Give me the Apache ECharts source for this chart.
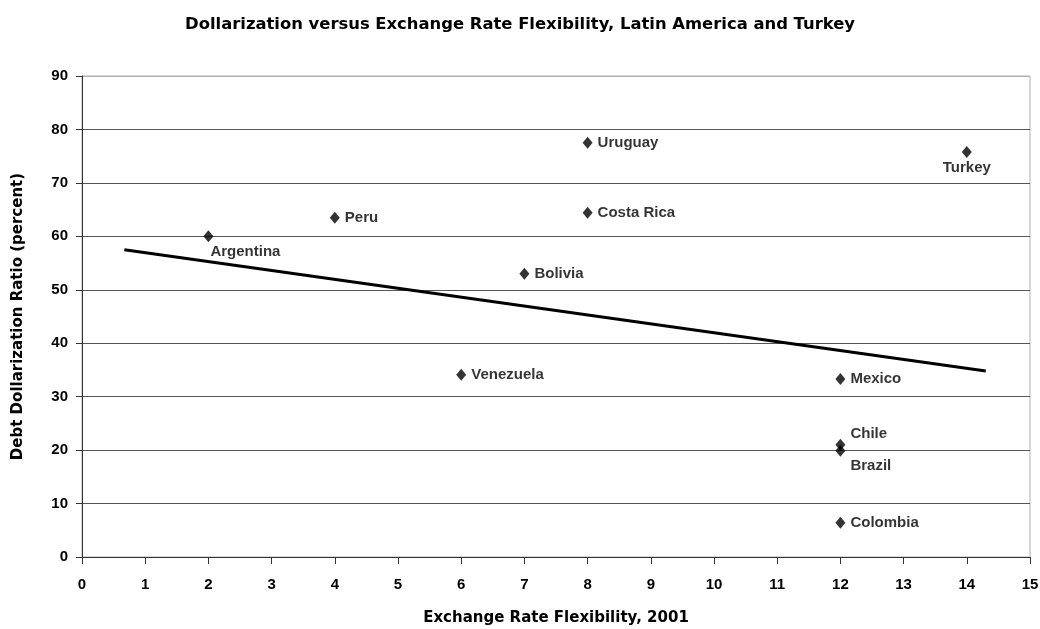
<!DOCTYPE html>
<html>
<head>
<meta charset="utf-8">
<script src="https://cdn.jsdelivr.net/npm/echarts@6/dist/echarts.min.js"></script>
<style>
  html, body { margin: 0; padding: 0; background: #fff; }
  #chart { width: 1040px; height: 629px; }
</style>
</head>
<body>
<div id="chart"></div>
<script>
// Countries, exchange rate flexibility score and debt dollarization ratio (%)
const countries = ['Argentina', 'Peru', 'Uruguay', 'Costa Rica', 'Bolivia', 'Venezuela',
                   'Mexico', 'Chile', 'Brazil', 'Colombia', 'Turkey'];
const flexibility = [2, 4, 8, 8, 7, 6, 12, 12, 12, 12, 14];
const dollarization = [60.0, 63.5, 77.5, 64.4, 53.0, 34.1, 33.3, 21.0, 19.9, 6.4, 75.8];

// Fitted trend line end points
const trendX = [0.67, 14.3];
const trendY = [57.5, 34.8];

const xTicks = [0, 1, 2, 3, 4, 5, 6, 7, 8, 9, 10, 11, 12, 13, 14, 15];
const yTicks = [0, 10, 20, 30, 40, 50, 60, 70, 80, 90];

const FONT = '"Liberation Sans", Arial, sans-serif';
const WIDE_FONT = '"DejaVu Sans", Verdana, sans-serif';

// Label placement per country
const labelPlacement = {
  'Argentina': { position: 'right', offset: [-8, 16] },
  'Turkey':    { position: 'bottom', distance: 2 },
  'Chile':     { position: 'right', offset: [0, -11] },
  'Brazil':    { position: 'right', offset: [0, 15] }
};

const points = countries.map((name, i) => {
  const item = { name: name, value: [flexibility[i], dollarization[i]] };
  if (labelPlacement[name]) item.label = labelPlacement[name];
  return item;
});

const chart = echarts.init(document.getElementById('chart'));
chart.setOption({
  animation: false,
  backgroundColor: '#fff',
  title: {
    text: 'Dollarization versus Exchange Rate Flexibility, Latin America and Turkey',
    left: 'center',
    top: 12,
    textStyle: { fontFamily: WIDE_FONT, fontWeight: 'bold', fontSize: 16.4, color: '#000' }
  },
  grid: {
    left: 82, right: 10, top: 76, bottom: 72,
    outerBoundsMode: 'none',
    containLabel: false,
    show: true, borderColor: '#b0b0b0', borderWidth: 1
  },
  xAxis: {
    type: 'value',
    min: xTicks[0], max: xTicks[xTicks.length - 1], interval: 1,
    name: 'Exchange Rate Flexibility, 2001',
    nameLocation: 'middle',
    nameGap: 54,
    nameTextStyle: { fontFamily: WIDE_FONT, fontWeight: 'bold', fontSize: 15, color: '#000' },
    axisLine: { show: true, lineStyle: { color: '#333', width: 1 } },
    axisTick: { show: true, length: 7, lineStyle: { color: '#333' } },
    axisLabel: { fontFamily: FONT, fontWeight: 'bold', fontSize: 15, color: '#000', margin: 20 },
    splitLine: { show: false }
  },
  yAxis: {
    type: 'value',
    min: yTicks[0], max: yTicks[yTicks.length - 1], interval: 10,
    name: 'Debt Dollarization Ratio (percent)',
    nameLocation: 'middle',
    nameGap: 56,
    nameTextStyle: { fontFamily: WIDE_FONT, fontWeight: 'bold', fontSize: 15, color: '#000' },
    axisLine: { show: true, lineStyle: { color: '#333', width: 1 } },
    axisTick: { show: true, length: 6, lineStyle: { color: '#333' } },
    axisLabel: { fontFamily: FONT, fontWeight: 'bold', fontSize: 15, color: '#000', margin: 14 },
    splitLine: {
      show: true,
      lineStyle: {
        color: ['#555', '#555', '#555', '#555', '#555', '#555', '#555', '#555', '#555', '#b0b0b0'],
        width: 1
      }
    }
  },
  series: [
    {
      type: 'line',
      data: trendX.map((x, i) => [x, trendY[i]]),
      symbol: 'none',
      lineStyle: { color: '#000', width: 3 },
      z: 3
    },
    {
      type: 'scatter',
      data: points,
      symbol: 'diamond',
      symbolSize: [10, 12],
      itemStyle: { color: '#000' },
      label: {
        show: true,
        position: 'right',
        distance: 5,
        formatter: '{b}',
        fontFamily: FONT,
        fontWeight: 'bold',
        fontSize: 15,
        color: '#000'
      },
      z: 4
    }
  ]
});
</script>
</body>
</html>
